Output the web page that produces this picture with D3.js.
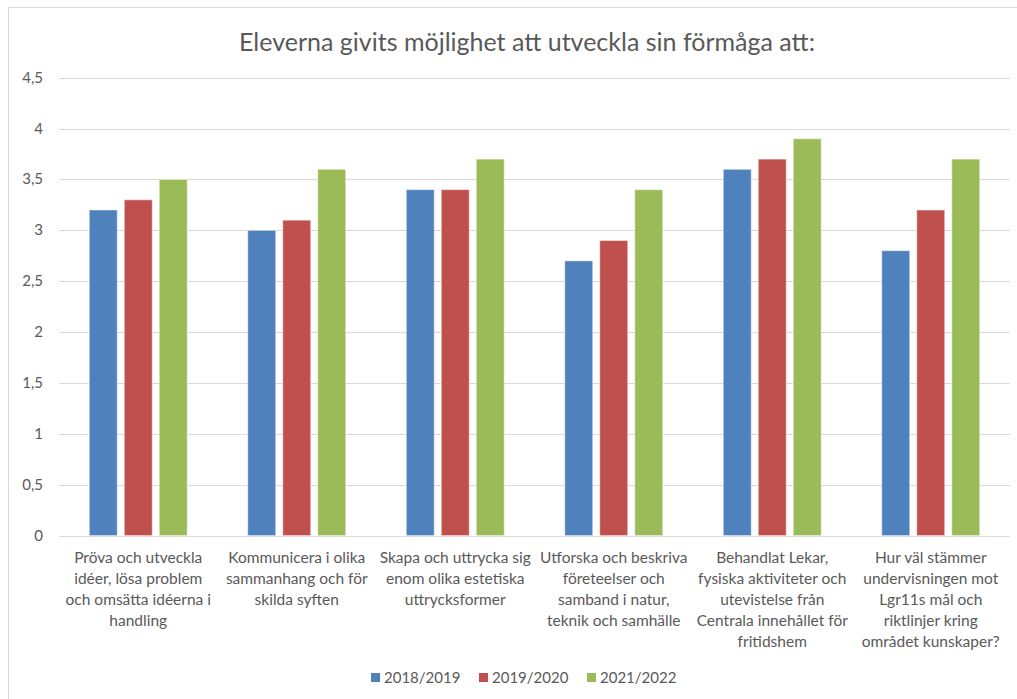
<!DOCTYPE html>
<html>
<head>
<meta charset="utf-8">
<script src="https://cdn.jsdelivr.net/npm/d3@7"></script>
<style>
  body { margin: 0; background: #fff; }
  text { font-family: Lato, "Open Sans", sans-serif; fill: #595959; }
</style>
</head>
<body>
<div id="chart"></div>
<script>
// data //
const title = 'Eleverna givits möjlighet att utveckla sin förmåga att:'
const categories = [
  'Pröva och utveckla\nidéer, lösa problem\noch omsätta idéerna i\nhandling',
  'Kommunicera i olika\nsammanhang och för\nskilda syften',
  'Skapa och uttrycka sig\nenom olika estetiska\nuttrycksformer',
  'Utforska och beskriva\nföreteelser och\nsamband i natur,\nteknik och samhälle',
  'Behandlat Lekar,\nfysiska aktiviteter och\nutevistelse från\nCentrala innehållet för\nfritidshem',
  'Hur väl stämmer\nundervisningen mot\nLgr11s mål och\nriktlinjer kring\nområdet kunskaper?'
]
const seriesNames = ['2018/2019', '2019/2020', '2021/2022']
const values2018 = [3.2, 3.0, 3.4, 2.7, 3.6, 2.8]
const values2019 = [3.3, 3.1, 3.4, 2.9, 3.7, 3.2]
const values2021 = [3.5, 3.6, 3.7, 3.4, 3.9, 3.7]
const yTicks = [0, 0.5, 1, 1.5, 2, 2.5, 3, 3.5, 4, 4.5]
const colors = ['#4F81BD', '#C0504D', '#9BBB59']

const seriesValues = [values2018, values2019, values2021]

// svg //
const width = 1017
const height = 699
const plot = { left: 59, right: 1010, top: 77.7, bottom: 535.6 }

const svg = d3.select('#chart').append('svg')
  .attr('width', width)
  .attr('height', height)

// chart border
svg.append('rect')
  .attr('x', 8.5)
  .attr('y', 7.5)
  .attr('width', 1020)
  .attr('height', 720)
  .attr('fill', '#fff')
  .attr('stroke', '#d9d9d9')

svg.append('text')
  .attr('x', 527)
  .attr('y', 51)
  .attr('text-anchor', 'middle')
  .style('font-size', '25px')
  .text(title)

const x = d3.scaleBand()
  .domain(d3.range(categories.length))
  .range([plot.left, plot.right])
  .paddingInner(0)
  .paddingOuter(0)

const y = d3.scaleLinear()
  .domain([0, 4.5])
  .range([plot.bottom, plot.top])

// gridlines
svg.append('g')
  .selectAll('line')
  .data(yTicks)
  .enter()
  .append('line')
  .attr('x1', plot.left)
  .attr('x2', plot.right)
  .attr('y1', d => Math.round(y(d)) + 0.5)
  .attr('y2', d => Math.round(y(d)) + 0.5)
  .attr('stroke', '#d9d9d9')

// y axis labels
const fmt = d => String(d).replace('.', ',')
svg.append('g')
  .selectAll('text')
  .data(yTicks)
  .enter()
  .append('text')
  .attr('x', 43)
  .attr('y', d => y(d) + 5)
  .attr('text-anchor', 'end')
  .style('font-size', '15px')
  .text(fmt)

// bars
const barWidth = 28
const barGap = 7
const groupWidth = 3 * barWidth + 2 * barGap
const inner = d3.scaleBand()
  .domain(d3.range(seriesNames.length))
  .range([0, groupWidth])
  .paddingInner(barGap / (barWidth + barGap))
  .paddingOuter(0)

const groups = svg.append('g')
  .selectAll('g')
  .data(categories)
  .enter()
  .append('g')
  .attr('transform', (d, i) => `translate(${x(i) + (x.bandwidth() - groupWidth) / 2}, 0)`)

groups.selectAll('rect')
  .data((d, i) => seriesValues.map((vals, s) => ({ s, v: vals[i] })))
  .enter()
  .append('rect')
  .attr('x', d => inner(d.s))
  .attr('width', inner.bandwidth())
  .attr('y', d => y(d.v))
  .attr('height', d => y(0) - y(d.v))
  .attr('fill', d => colors[d.s])
  .attr('stroke', '#fff')
  .attr('stroke-opacity', 0.5)
  .attr('stroke-width', 1)

// category labels
const catLabels = svg.append('g')
  .selectAll('text')
  .data(categories)
  .enter()
  .append('text')
  .attr('text-anchor', 'middle')
  .style('font-size', '15.5px')

catLabels.selectAll('tspan')
  .data((d, i) => d.split('\n').map(line => ({ line, i })))
  .enter()
  .append('tspan')
  .attr('x', d => x(d.i) + x.bandwidth() / 2)
  .attr('y', (d, j) => 563 + j * 21)
  .text(d => d.line)

// legend
const legend = svg.append('g')
  .attr('transform', 'translate(371, 673)')

const item = legend.selectAll('g')
  .data(seriesNames)
  .enter()
  .append('g')
  .attr('transform', (d, i) => `translate(${i * 108}, 0)`)

item.append('rect')
  .attr('width', 9)
  .attr('height', 9)
  .attr('fill', (d, i) => colors[i])

item.append('text')
  .attr('x', 13)
  .attr('y', 10)
  .style('font-size', '15px')
  .text(d => d)
</script>
</body>
</html>
